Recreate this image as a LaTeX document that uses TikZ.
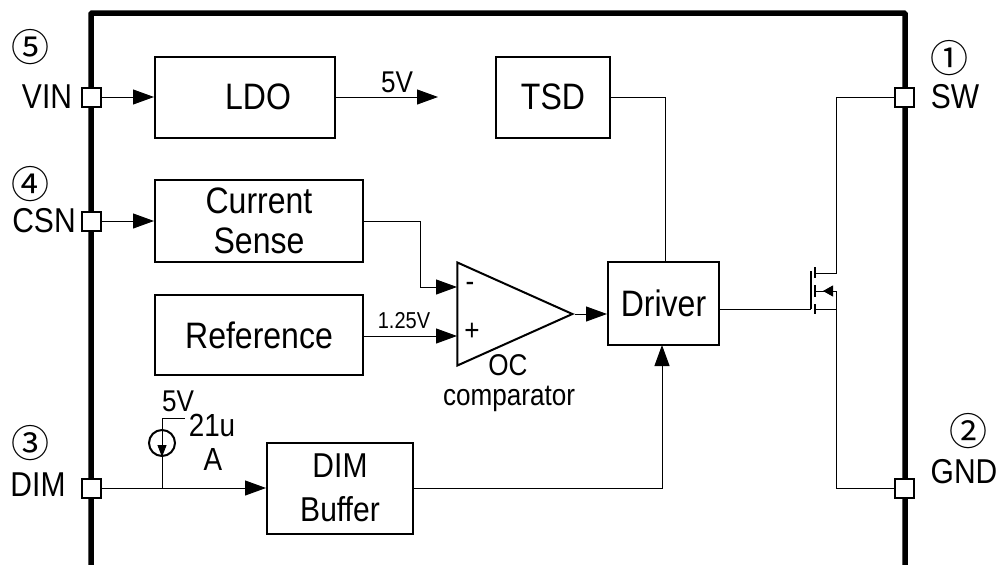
\documentclass[tikz,border=0pt]{standalone}
\usepackage{fontspec}
\setmainfont[FakeStretch=0.87]{Liberation Sans}
\newfontfamily\circfont{Noto Sans CJK SC}
\usetikzlibrary{arrows.meta,shapes.geometric}
\newcommand{\sz}[1]{\fontsize{#1}{#1}\selectfont}

\begin{document}
\begin{tikzpicture}[x=1pt, y=-1pt, semithick, >={Triangle[length=21pt,width=15pt]}]
  \tikzstyle{blockbox}=[draw=black, line width=2pt, fill=white, inner sep=0pt, align=center, font=\sz{36.8}]
  \tikzstyle{pinbox}=[draw=black, line width=2pt, fill=white, inner sep=0pt, minimum size=19pt]
  \tikzstyle{pinlabel}=[inner sep=0pt, font=\sz{34.5}]
  \tikzstyle{circlabel}=[inner sep=0pt, font=\circfont\sz{38}]
  \tikzstyle{wire}=[draw=black, line width=1pt]
  \tikzstyle{fetline}=[draw=black, line width=1.5pt]
  \useasboundingbox (0,0) rectangle (1002,565);

  \draw[line width=5.5pt, rounded corners=1pt] (91,565) -- (91,13) -- (905,13) -- (905,565);

  % blocks
  \node[blockbox, minimum width=180pt, minimum height=81pt] (LDO) at (245,97)  {\hspace*{26pt}LDO};
  \node[blockbox, minimum width=114pt, minimum height=81pt] (TSD) at (553,97)  {TSD};
  \node[blockbox, minimum width=208pt, minimum height=82pt] (CS) at (259,221) {Current\\[3pt]Sense};
  \node[blockbox, minimum width=208pt, minimum height=80pt] (REF) at (259,335)   {Reference};
  \node[blockbox, minimum width=111pt, minimum height=83pt] (DRV) at (663.5,303.5) {Driver};
  \node[blockbox, minimum width=146pt, minimum height=91pt, font=\sz{34.5}] (BUF) at (340,488) {DIM\\[10pt]Buffer};
  \node[draw=black, line width=2pt, inner sep=0pt, isosceles triangle, isosceles triangle stretches,
        minimum width=103pt, minimum height=115pt, anchor=apex] (CMP) at (575,314) {};

  % pins
  \node[pinbox] (VIN) at (91,97)  {};
  \node[pinbox] (CSN) at (91,221) {};
  \node[pinbox] (DIM) at (91,488) {};
  \node[pinbox] (SW)  at (904,97) {};
  \node[pinbox] (GND) at (904,488) {};

  \node[pinlabel] (lvin) at (47,97)  {VIN};
  \node[pinlabel] (lcsn) at (44,221) {CSN};
  \node[pinlabel] (ldim) at (38,485) {DIM};
  \node[pinlabel] (lsw)  at (955,97) {SW};
  \node[pinlabel] (lgnd) at (964,472) {GND};
  \node[circlabel] (c5) at (31,47)  {⑤};
  \node[circlabel] (c4) at (31,184) {④};
  \node[circlabel] (c3) at (31,443) {③};
  \node[circlabel] (c1) at (949,58) {①};
  \node[circlabel] (c2) at (968,431) {②};

  % comparator inputs and other free ends
  \coordinate (inm) at (457,287);
  \coordinate (inp) at (457,336);
  \coordinate (ldoout) at (438,97);
  \coordinate (dimj) at (162,488);
  \coordinate (srctop) at (162,418);
  \coordinate (srcend) at (185,418);
  \node[draw=black, line width=2pt, circle, minimum size=26pt, inner sep=0pt] (SRC) at (162,443) {};

  % mosfet
  \coordinate (gtop) at (811,273);
  \coordinate (gbot) at (811,309);
  \coordinate (dr) at (815,273);
  \coordinate (bd) at (815,291);
  \coordinate (sr) at (815,309);
  \coordinate (drx) at (836,273);
  \coordinate (bdx) at (836,291);
  \coordinate (srx) at (836,309);

  \draw[wire, ->] (VIN.east) -- (LDO.west);
  \draw[wire, ->] (CSN.east) -- (CS.west);
  \draw[wire, ->] (DIM.east) -- (BUF.west);
  \draw[wire, ->] (LDO.east |- ldoout) -- (ldoout);
  \draw[wire] (TSD.east) -| (665,262);
  \draw[wire, ->] (CS.east) -| (420,287) -- (inm);
  \draw[wire, ->] (REF.east |- inp) -- (inp);
  \draw[wire, ->] (CMP.apex) -- (DRV.west |- CMP.apex);
  \draw[wire, ->] (BUF.east) -| (662,345);
  \draw[wire] (dimj) -- (srctop) -- (srcend);
  \draw[wire, -{Triangle[length=12pt,width=9pt]}] (SRC.north) -- (162,457);
  \draw[wire] (DRV.east |- gbot) -- (gbot);

  \draw[fetline] (gtop) ++(0,-2) -- (gbot);
  \draw[fetline] (815,267) -- (815,278);
  \draw[fetline] (815,285) -- (815,297);
  \draw[fetline] (815,304) -- (815,314);
  \draw[wire] (dr) -- (drx) |- (SW.west);
  \draw[wire] (sr) -- (srx);
  \draw[wire] (bdx) |- (GND.west);
  \draw[wire, -{Triangle[length=10pt,width=11pt]}] (bdx) -- (823,291);
  \draw[wire] (bd) -- (bdx);

  % small labels
  \node[inner sep=0pt, font=\sz{30}] (v5a) at (397,82)  {5V};
  \node[inner sep=0pt, font=\sz{30}] (v5b) at (178,401) {5V};
  \node[inner sep=0pt, font=\sz{32}] (i21) at (212,425) {21u};
  \node[inner sep=0pt, font=\sz{32}] (i21a) at (213,459) {A};
  \node[inner sep=0pt, font=\sz{23}] (vref) at (404,321) {1.25V};
  \node[inner sep=0pt, font=\sz{30}] (minus) at (470,287) {-};
  \node[inner sep=0pt, font=\sz{30}] (plus) at (472,332) {+};
  \node[inner sep=0pt, font=\sz{30}] (oc) at (508,365) {OC};
  \node[inner sep=0pt, font=\sz{30}] (cmpl) at (509,399) {comparator};
\end{tikzpicture}
\end{document}
